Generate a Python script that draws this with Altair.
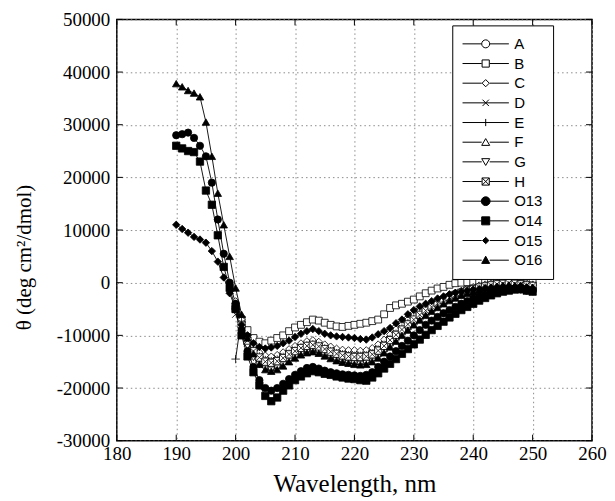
import altair as alt
import pandas as pd

# ---------------- data ----------------
wl_full = list(range(190, 251))   # O13..O16
wl_short = list(range(200, 251))  # A..H
series_names = ["A", "B", "C", "D", "E", "F", "G", "H", "O13", "O14", "O15", "O16"]
x_ticks = list(range(180, 261, 10))
y_ticks = list(range(-30000, 50001, 10000))

A = [-4000, -7500, -10500, -12500, -13800, -14500, -14800, -14500, -14000, -13300,
     -12800, -12300, -11800, -11500, -11800, -12300, -12800, -13200, -13400, -13500,
     -13600, -13700, -13600, -13200, -12500, -11600, -10500, -9500, -8500, -7500,
     -6600, -5800, -5000, -4300, -3700, -3100, -2600, -2100, -1700, -1300,
     -1000, -700, -500, -300, -200, 0, 100, 0, -200, -300, -500]
B = [-5000, -7000, -9000, -10500, -11200, -11500, -11000, -10500, -10000, -9200,
     -8500, -8000, -7500, -7000, -7200, -7600, -8000, -8300, -8400, -8200,
     -8000, -7800, -7600, -7300, -7000, -6000, -4800, -4300, -4000, -3600,
     -3200, -2600, -2000, -1500, -1100, -800, -400, -100, 0, 100,
     200, 300, 500, 600, 800, 1000, 900, 900, 700, 600, 500]
C = [-3500, -7000, -10000, -12000, -13200, -13800, -14000, -13700, -13200, -12600,
     -12000, -11500, -11100, -10900, -11200, -11700, -12100, -12500, -12700, -12800,
     -12800, -12900, -12800, -12400, -11700, -10800, -9800, -8800, -7900, -7000,
     -6100, -5300, -4600, -3900, -3300, -2800, -2300, -1900, -1500, -1100,
     -800, -500, -300, -100, 0, 200, 300, 200, 0, -100, -300]
D = [-6000, -9000, -11500, -13300, -14500, -15200, -15400, -15100, -14500, -13800,
     -13200, -12600, -12200, -12000, -12300, -12800, -13300, -13700, -14000, -14100,
     -14200, -14200, -14100, -13700, -13000, -12100, -11000, -10000, -9000, -8000,
     -7100, -6200, -5400, -4700, -4000, -3400, -2900, -2400, -2000, -1600,
     -1300, -1000, -700, -500, -300, -200, -100, -200, -300, -500, -600]
E = [-14500, -6500, -10800, -12800, -14000, -14700, -14900, -14600, -14100, -13500,
     -12900, -12300, -11900, -11700, -12000, -12500, -13000, -13400, -13600, -13800,
     -13900, -13900, -13800, -13400, -12700, -11800, -10700, -9700, -8700, -7700,
     -6800, -6000, -5200, -4500, -3800, -3200, -2700, -2200, -1800, -1400,
     -1100, -800, -600, -400, -200, -100, 0, -100, -300, -400, -500]
F = [-5000, -8500, -11200, -13200, -14600, -15500, -15800, -15500, -14900, -14200,
     -13500, -12900, -12500, -12300, -12600, -13100, -13600, -14000, -14300, -14500,
     -14600, -14600, -14500, -14100, -13400, -12500, -11400, -10300, -9300, -8300,
     -7400, -6500, -5700, -4900, -4200, -3600, -3000, -2500, -2100, -1700,
     -1400, -1100, -800, -600, -400, -300, -200, -300, -400, -600, -700]
G = [-5500, -9000, -12000, -14200, -15600, -16400, -16600, -16200, -15600, -14900,
     -14200, -13600, -13100, -12900, -13200, -13800, -14300, -14800, -15100, -15300,
     -15400, -15500, -15300, -14900, -14200, -13200, -12100, -11000, -9900, -8900,
     -7900, -7000, -6100, -5300, -4600, -3900, -3300, -2800, -2300, -1900,
     -1600, -1300, -1000, -700, -500, -400, -300, -400, -500, -700, -800]
H = [-4500, -8000, -11000, -13000, -14200, -15000, -15200, -14900, -14300, -13600,
     -13000, -12400, -12000, -11800, -12100, -12600, -13100, -13500, -13800, -14000,
     -14100, -14100, -14000, -13600, -12900, -12000, -10900, -9900, -8900, -7900,
     -7000, -6100, -5300, -4600, -3900, -3300, -2800, -2300, -1900, -1500,
     -1200, -900, -700, -500, -300, -200, -100, -200, -300, -500, -600]
O13 = [28000, 28200, 28500, 27500, 26000, 24000, 19000, 12000, 5500, 0,
       -4000, -9000, -13000, -16000, -18500, -20000, -20500, -20000, -19200, -18300,
       -17500, -16800, -16200, -16000, -16300, -16700, -17000, -17200, -17400, -17500,
       -17600, -17700, -17500, -17000, -16000, -15000, -14000, -13000, -12000, -11000,
       -10000, -9000, -8000, -7200, -6500, -5800, -5200, -4600, -4000, -3500,
       -3000, -2600, -2300, -2000, -1700, -1500, -1300, -1200, -1300, -1500, -1600]
O14 = [26000, 25500, 25000, 24800, 23000, 17500, 14800, 9000, 3000, -1000,
       -5000, -10000, -14000, -17000, -19500, -21500, -22500, -21800, -20500, -19500,
       -18500, -17800, -17200, -16800, -17000, -17300, -17500, -17800, -18000, -18200,
       -18300, -18500, -18600, -18000, -17200, -16300, -15400, -14500, -13500, -12600,
       -11700, -10800, -9900, -9000, -8200, -7400, -6600, -5900, -5200, -4600,
       -4000, -3400, -2900, -2400, -2000, -1700, -1500, -1300, -1200, -1500, -1700]
O15 = [11000, 10200, 9500, 8700, 8200, 7600, 6000, 4000, 1000, -2000,
       -5000, -8000, -10000, -11500, -12200, -12500, -12300, -12000, -11500, -11000,
       -10300, -9700, -9200, -8800, -9200, -9700, -10000, -10200, -10300, -10400,
       -10500, -10700, -10800, -10400, -9800, -9200, -8600, -7700, -7000, -6000,
       -5200, -4500, -4000, -3500, -3000, -2600, -2200, -1900, -1700, -1500,
       -1300, -1200, -1000, -900, -800, -700, -700, -800, -600, -900, -1000]
O16 = [37800, 37200, 36500, 36000, 35300, 30500, 24000, 17000, 11000, 5000,
       -1000, -6000, -10500, -13500, -15500, -16500, -16800, -16500, -15800, -15000,
       -14300, -13700, -13300, -13100, -13400, -13900, -14400, -14800, -15100, -15300,
       -15500, -15600, -15500, -15000, -14300, -13300, -12200, -11100, -10000, -9000,
       -8000, -7100, -6200, -5400, -4700, -4000, -3400, -2900, -2400, -2000,
       -1700, -1400, -1100, -900, -700, -500, -400, -500, -600, -800, -900]

series_values = {"A": A, "B": B, "C": C, "D": D, "E": E, "F": F, "G": G, "H": H,
                 "O13": O13, "O14": O14, "O15": O15, "O16": O16}

rows = []
for i, name in enumerate(series_names):
    vals = series_values[name]
    wls = wl_full if name.startswith("O") else wl_short
    assert len(vals) == len(wls), (name, len(vals))
    for w, v in zip(wls, vals):
        rows.append({"series": name, "wl": w, "theta": v, "k": i})
df = pd.DataFrame(rows)

# ---------------- styling ----------------
W, Hh = 476, 422
xs = alt.Scale(domain=[180, 260], nice=False, zero=False)
ys = alt.Scale(domain=[-30000, 50000], nice=False, zero=False)

plot_shapes = ["circle", "square", "diamond",
               "M-1,-1L1,1M-1,1L1,-1",
               "M-1.2,0L1.2,0M0,-1.2L0,1.2",
               "triangle-up", "triangle-down",
               "M-1,-1L1,-1L1,1L-1,1ZM-1,-1L1,1M-1,1L1,-1",
               "circle", "square", "diamond", "triangle-up"]
fills = ["white"] * 8 + ["black"] * 4
strokes = ["black"] * 12
sizes = [46, 56, 44, 38, 44, 48, 48, 48, 64, 62, 34, 62]

L = "M-2.9,0L-0.5,0M0.5,0L2.9,0"
legend_paths = [
    L + "M-0.5,0A0.5,0.5 0 1,1 0.5,0A0.5,0.5 0 1,1 -0.5,0Z",
    L + "M-0.45,-0.45L0.45,-0.45L0.45,0.45L-0.45,0.45Z",
    L + "M-0.45,0L0,-0.45L0.45,0L0,0.45Z",
    "M-2.9,0L2.9,0M-0.4,-0.4L0.4,0.4M-0.4,0.4L0.4,-0.4",
    "M-2.9,0L2.9,0M0,-0.45L0,0.45",
    L + "M-0.5,0.4L0,-0.45L0.5,0.4Z",
    L + "M-0.5,-0.4L0,0.45L0.5,-0.4Z",
    L + "M-0.45,-0.45L0.45,-0.45L0.45,0.45L-0.45,0.45ZM-0.45,-0.45L0.45,0.45M-0.45,0.45L0.45,-0.45",
    L + "M-0.55,0A0.55,0.55 0 1,1 0.55,0A0.55,0.55 0 1,1 -0.55,0Z",
    L + "M-0.5,-0.5L0.5,-0.5L0.5,0.5L-0.5,0.5Z",
    L + "M-0.4,0L0,-0.4L0.4,0L0,0.4Z",
    L + "M-0.5,0.4L0,-0.5L0.5,0.4Z",
]

x_axis = alt.Axis(title="Wavelength, nm", values=x_ticks, labelExpr="'' + datum.value",
                  titlePadding=8, labelPadding=4, labelFlush=False, titleFontSize=25)
y_axis = alt.Axis(title="θ (deg cm²/dmol)", values=y_ticks, labelExpr="'' + datum.value",
                  titlePadding=22, labelFlush=False, titleY=238)

base = alt.Chart(df)
lines = base.mark_line(color="black", strokeWidth=0.9).encode(
    x=alt.X("wl:Q", scale=xs, axis=x_axis),
    y=alt.Y("theta:Q", scale=ys, axis=y_axis),
    detail="series:N",
    order="wl:Q",
)
points = base.mark_point(filled=True, stroke="black", strokeWidth=0.8, opacity=1).encode(
    x=alt.X("wl:Q", scale=xs),
    y=alt.Y("theta:Q", scale=ys),
    shape=alt.Shape("series:N", scale=alt.Scale(domain=series_names, range=plot_shapes), legend=None),
    fill=alt.Fill("series:N", scale=alt.Scale(domain=series_names, range=fills), legend=None),
    size=alt.Size("series:N", scale=alt.Scale(domain=series_names, range=sizes), legend=None),
    order="k:Q",
)

leg = alt.Legend(title=None, orient="none", legendX=336, legendY=6,
                 symbolSize=256, symbolStrokeColor="black", symbolStrokeWidth=1,
                 symbolOpacity=1,
                 symbolOffset=15, labelOffset=20, labelFont="Liberation Sans",
                 labelFontSize=15, labelColor="black", rowPadding=2.7, padding=10,
                 fillColor="white", strokeColor="black")
leg_df = pd.DataFrame({"entry": series_names, "wl": [200] * 12, "theta": [0] * 12})
legend_layer = alt.Chart(leg_df).transform_filter("false").mark_point(
    filled=True, strokeWidth=1, opacity=1).encode(
    x=alt.X("wl:Q", scale=xs),
    y=alt.Y("theta:Q", scale=ys),
    shape=alt.Shape("entry:N", scale=alt.Scale(domain=series_names, range=legend_paths), legend=leg),
    fill=alt.Fill("entry:N", scale=alt.Scale(domain=series_names, range=fills), legend=leg),
    stroke=alt.Stroke("entry:N", scale=alt.Scale(domain=series_names, range=strokes), legend=leg),
)

xt = pd.DataFrame({"wl": x_ticks})
yt = pd.DataFrame({"theta": y_ticks})
tick_bottom = alt.Chart(xt).mark_rule(color="black", strokeWidth=1).encode(
    x=alt.X("wl:Q", scale=xs), y=alt.value(Hh), y2=alt.value(Hh - 6))
tick_top = alt.Chart(xt).mark_rule(color="black", strokeWidth=1).encode(
    x=alt.X("wl:Q", scale=xs), y=alt.value(0), y2=alt.value(6))
tick_left = alt.Chart(yt).mark_rule(color="black", strokeWidth=1).encode(
    y=alt.Y("theta:Q", scale=ys), x=alt.value(0), x2=alt.value(6))
tick_right = alt.Chart(yt).mark_rule(color="black", strokeWidth=1).encode(
    y=alt.Y("theta:Q", scale=ys), x=alt.value(W), x2=alt.value(W - 6))

chart = alt.layer(lines, tick_bottom, tick_top, tick_left, tick_right, points, legend_layer).resolve_scale(
    shape="independent", fill="independent", size="independent", stroke="independent"
).properties(
    width=W, height=Hh,
    padding={"left": 109, "top": 11, "right": 15, "bottom": 60},
    autosize=alt.AutoSizeParams(type="none"),
    background="white",
).configure_view(
    stroke="black", strokeWidth=1.5
).configure_axis(
    grid=True, gridColor="#8c8c8c", gridDash=[1.5, 3], gridWidth=1,
    domain=False, ticks=False, labelPadding=7,
    labelFont="Liberation Serif", labelFontSize=19, labelColor="black",
    titleFont="Liberation Serif", titleFontSize=21, titleFontWeight="normal", titleColor="black",
)

chart.save("out.html", embed_options={"renderer": "svg", "actions": False})
